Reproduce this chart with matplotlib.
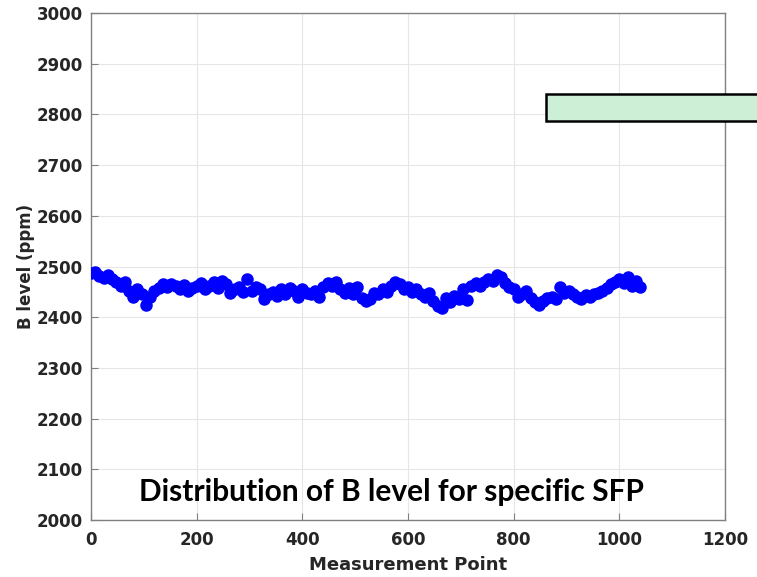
import matplotlib
matplotlib.use("Agg")
import matplotlib.pyplot as plt
from matplotlib.patches import Rectangle

# Measurement points (x) and B level values (ppm)
x_points = list(range(0, 1041, 8))
b_level = [
    2487, 2490, 2482, 2478, 2483, 2475, 2470, 2462, 2470, 2452,
    2440, 2455, 2445, 2425, 2440, 2452, 2458, 2465, 2460, 2465,
    2462, 2456, 2463, 2452, 2458, 2462, 2468, 2455, 2462, 2470,
    2458, 2472, 2465, 2448, 2455, 2460, 2450, 2476, 2452, 2460,
    2455, 2436, 2445, 2450, 2442, 2455, 2446, 2458, 2452, 2440,
    2455, 2448, 2445, 2452, 2440, 2460, 2468, 2462, 2470, 2455,
    2448, 2458, 2445, 2460, 2438, 2432, 2436, 2448, 2445, 2455,
    2450, 2462, 2470, 2466, 2455, 2460, 2450, 2455, 2446, 2440,
    2448, 2432, 2422, 2418, 2438, 2430, 2442, 2436, 2455, 2434,
    2462, 2468, 2462, 2470, 2476, 2472, 2484, 2480, 2468, 2460,
    2455, 2440, 2445, 2452, 2438, 2430, 2425, 2432, 2438, 2440,
    2436, 2460, 2448, 2452, 2445, 2440, 2436, 2444, 2440, 2445,
    2448, 2452, 2458, 2465, 2470, 2475, 2468, 2480, 2462, 2472,
    2460,
]

x_ticks = [0, 200, 400, 600, 800, 1000, 1200]
y_ticks = [2000, 2100, 2200, 2300, 2400, 2500, 2600, 2700, 2800, 2900, 3000]
title_text = "Distribution of B level for specific SFP"
x_label = "Measurement Point"
y_label = "B level (ppm)"

fig = plt.figure(figsize=(7.57, 5.77), dpi=100)
ax = fig.add_axes([91 / 757, 57 / 577, 634 / 757, 507 / 577])

ax.plot(x_points, b_level, linestyle="none", marker="o", markersize=8,
        color="#0000ff", markeredgecolor="#0000ff", zorder=3)

ax.set_xlim(0, 1200)
ax.set_ylim(2000, 3000)
ax.set_xticks(x_ticks)
ax.set_yticks(y_ticks)
ax.grid(True, color="#e6e6e6", linewidth=0.8, zorder=0)
ax.set_axisbelow(True)

tick_font = dict(family="DejaVu Sans", weight="bold", size=12)
ax.set_xticklabels([str(t) for t in x_ticks], **tick_font, color="#262626")
ax.set_yticklabels([str(t) for t in y_ticks], **tick_font, color="#262626")
ax.tick_params(direction="in", length=5, width=0.8, color="#808080", pad=6)
ax.tick_params(axis="x", pad=8)

for s in ax.spines.values():
    s.set_color("#808080")
    s.set_linewidth(1.0)

ax.set_xlabel(x_label, family="DejaVu Sans", weight="bold", size=13,
              color="#262626", labelpad=5)
ax.set_ylabel(y_label, family="DejaVu Sans", weight="bold", size=12,
              color="#262626", labelpad=1)

rect = Rectangle((862, 2787), 500, 53, facecolor="#ccefd6", edgecolor="black",
                 linewidth=1.8, clip_on=False, zorder=4)
ax.add_patch(rect)

fig.text(391 / 757, 1 - 492 / 577, title_text, family="Lato", weight="bold",
         size=21.5, ha="center", va="center", color="black")

fig.savefig("out.png", dpi=100)
